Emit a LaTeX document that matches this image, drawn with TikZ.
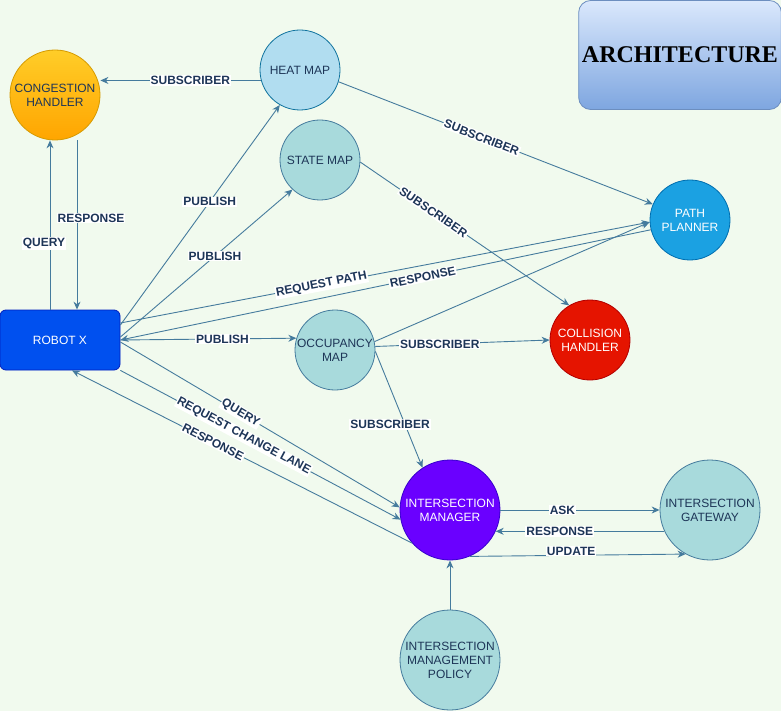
\documentclass[tikz,border=0pt]{standalone}
\usepackage{fontspec}
\setmainfont{Liberation Sans}
\newfontfamily\archfont{Liberation Serif}
\usetikzlibrary{arrows.meta,calc}
\definecolor{bgc}{HTML}{F1FAEE}
\definecolor{edgec}{HTML}{457B9D}
\definecolor{txtc}{HTML}{1D3557}
\definecolor{tealf}{HTML}{A8DADC}
\definecolor{heatf}{HTML}{B1DDF0}
\definecolor{heats}{HTML}{10739E}
\definecolor{congT}{HTML}{FFCD28}
\definecolor{congB}{HTML}{FFA500}
\definecolor{congS}{HTML}{D79B00}
\definecolor{ppf}{HTML}{1BA1E2}
\definecolor{pps}{HTML}{006EAF}
\definecolor{collf}{HTML}{E51400}
\definecolor{colls}{HTML}{B20000}
\definecolor{imf}{HTML}{6A00FF}
\definecolor{ims}{HTML}{3700CC}
\definecolor{robf}{HTML}{0050EF}
\definecolor{robs}{HTML}{001DBC}
\definecolor{archT}{HTML}{DAE8FC}
\definecolor{archB}{HTML}{7EA6E0}
\definecolor{archS}{HTML}{6C8EBF}
\begin{document}
\begin{tikzpicture}[x=1pt,y=-1pt,
  every node/.style={font=\fontsize{12}{14}\selectfont},
  circ/.style={circle,draw=edgec,fill=tealf,text=txtc,minimum size=#1,inner sep=0pt,align=center,line width=0.8pt},
  circ/.default=80pt,
  conn/.style={draw=edgec,line width=0.9pt,-{Stealth[length=8pt,width=7pt]}},
  lbl/.style={font=\bfseries\fontsize{12}{14}\selectfont,text=txtc,fill=white,inner sep=1pt},
]
\fill[bgc] (0,0) rectangle (781,711);
\useasboundingbox (0,0) rectangle (781,711);

% nodes
\node[rectangle,rounded corners=12pt,minimum width=199pt,minimum height=109pt,
  top color=archT,bottom color=archB,draw=archS,line width=0.8pt,
  font=\archfont\bfseries\fontsize{24}{28}\selectfont] (arch) at (680,55) {ARCHITECTURE};
\node[circ=90pt,top color=congT,bottom color=congB,draw=congS] (cong) at (55,95) {CONGESTION\\HANDLER};
\node[circ,fill=heatf,draw=heats] (heat) at (300,70) {HEAT MAP};
\node[circ] (state) at (320,160) {STATE MAP};
\node[circ,fill=ppf,draw=pps,text=white] (pp) at (690,220) {PATH\\PLANNER};
\node[circ,fill=collf,draw=colls,text=white] (coll) at (590,340) {COLLISION\\HANDLER};
\node[circ] (occ) at (335,350) {OCCUPANCY\\MAP};
\node[circ=100pt,fill=imf,draw=ims,text=white] (im) at (450,510) {INTERSECTION\\MANAGER};
\node[circ=100pt] (gw) at (710,510) {INTERSECTION\\GATEWAY};
\node[circ=100pt] (policy) at (450,660) {INTERSECTION\\MANAGEMENT\\POLICY};
\node[rectangle,rounded corners=6pt,minimum width=120pt,minimum height=60pt,
  fill=robf,draw=robs,line width=0.8pt,text=white] (robot) at (60,340) {ROBOT X};

% helper coordinates
\coordinate (qa) at ([xshift=-10pt]robot.north);
\coordinate (qb) at (qa |- cong.south);
\coordinate (ra) at ([xshift=17pt]robot.north);
\coordinate (rb) at (ra |- cong.south);
\coordinate (hc) at (cong.east |- heat.195);

% connectors
\draw[conn] (heat.195) -- (hc) node[lbl,pos=0.44] (l1) {SUBSCRIBER};
\draw[conn] (qa) -- (qb) node[lbl,pos=0.39,xshift=-6pt] (l2) {QUERY};
\draw[conn] (rb) -- (ra) node[lbl,pos=0.46,xshift=14pt] (l3) {RESPONSE};
\draw[conn] ([yshift=15pt]robot.east) -- (heat.240) node[lbl,pos=0.56] (l4) {PUBLISH};
\draw[conn] ([yshift=3pt]robot.east) -- (state.227) node[lbl,pos=0.55] (l5) {PUBLISH};
\draw[conn] ([yshift=17pt]robot.east) -- (pp.183) node[lbl,pos=0.38,sloped] (l6) {REQUEST PATH};
\draw[conn] (pp.194) -- (robot.east) node[lbl,pos=0.43,sloped] (l7) {RESPONSE};
\draw[conn] (occ.12) -- (pp.183);
\draw[conn] (heat.343) -- (pp.157) node[lbl,pos=0.455,sloped] (l8) {SUBSCRIBER};
\draw[conn] (state.357) -- (coll.121) node[lbl,pos=0.35,sloped] (l9) {SUBSCRIBER};
\draw[conn] (robot.east) -- (occ.163) node[lbl,pos=0.58] (l10) {PUBLISH};
\draw[conn] (occ.5) -- (coll.west) node[lbl,pos=0.37] (l11) {SUBSCRIBER};
\draw[conn] (occ.358) -- (im.123) node[lbl,pos=0.63,xshift=-15pt] (l12) {SUBSCRIBER};
\draw[conn] ([yshift=-2pt]robot.east) -- (im.177) node[lbl,pos=0.43,sloped] (l13) {QUERY};
\draw[conn] (robot.south east) -- (im.191) node[lbl,pos=0.44,sloped] (l14) {REQUEST CHANGE LANE};
\draw[conn] (im.221) -- ([xshift=12pt]robot.south) node[lbl,pos=0.585,sloped] (l15) {RESPONSE};
\draw[conn] (im.east) -- (gw.west) node[lbl,pos=0.39] (l16) {ASK};
\draw[conn] (gw.205) -- (im.335) node[lbl,pos=0.62] (l17) {RESPONSE};
\draw[conn] (im.293) -- (gw.241) node[lbl,pos=0.47,yshift=4pt] (l18) {UPDATE};
\draw[conn] (policy.north) -- (im.south);
\end{tikzpicture}
\end{document}
